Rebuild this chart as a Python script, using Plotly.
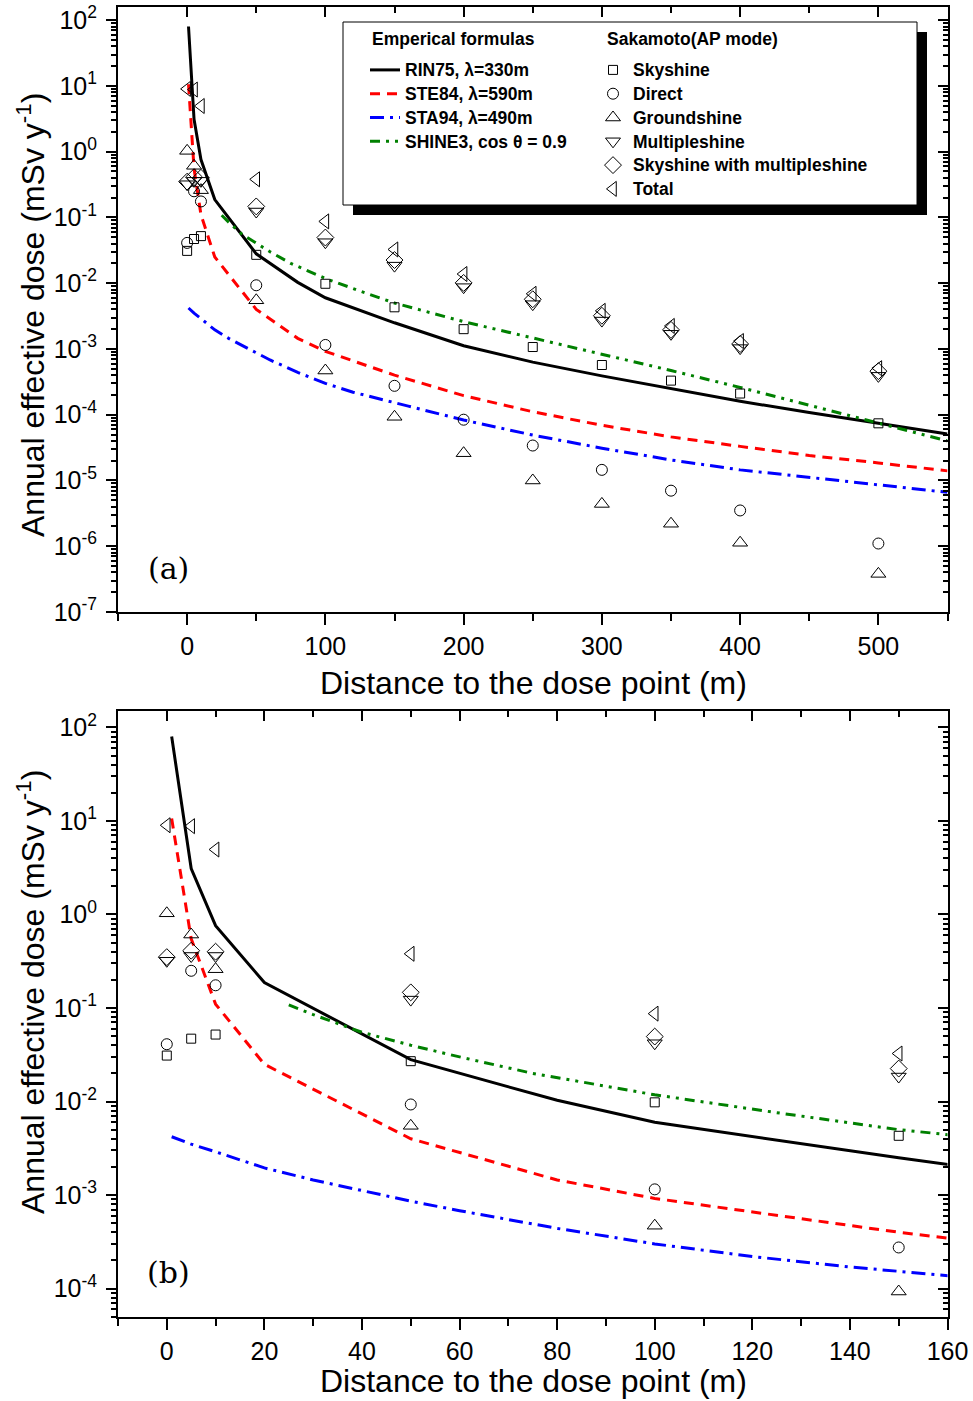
import plotly.graph_objects as go

# ---------------- data ----------------
dist_pts = [0, 5, 10, 50, 100, 150, 200, 250, 300, 350, 400, 500]
skyshine = [0.031, 0.047, 0.052, 0.027, 0.0098, 0.0043, 0.0020, 0.00107, 5.7e-4, 3.3e-4, 2.1e-4, 7.4e-5]
direct = [0.041, 0.25, 0.175, 0.0093, 0.00115, 2.75e-4, 8.4e-5, 3.4e-5, 1.45e-5, 7.0e-6, 3.5e-6, 1.1e-6]
groundshine = [1.03, 0.61, 0.26, 0.0055, 4.7e-4, 9.3e-5, 2.6e-5, 1.0e-5, 4.4e-6, 2.2e-6, 1.13e-6, 3.8e-7]
multipleshine = [0.32, 0.36, 0.36, 0.123, 0.042, 0.0185, 0.0087, 0.0048, 0.0027, 0.0017, 0.00103, 3.9e-4]
sky_multi = [0.35, 0.41, 0.40, 0.147, 0.0495, 0.0225, 0.0101, 0.0057, 0.0032, 0.00195, 0.00119, 4.6e-4]
total = [9.0, 8.8, 4.95, 0.38, 0.087, 0.0326, 0.0138, 0.0069, 0.0038, 0.00224, 0.00132, 5.1e-4]

rin75_x = [1, 5, 10, 20, 50, 80, 100, 150, 200, 250, 300, 350, 400, 450, 500, 550]
rin75_y = [80, 3.1, 0.76, 0.187, 0.028, 0.0103, 0.006, 0.0025, 0.00112, 6.3e-4, 3.9e-4, 2.5e-4,
           1.6e-4, 1.08e-4, 7.4e-5, 5.1e-5]
ste84_x = [1, 5, 10, 20, 50, 80, 100, 150, 200, 250, 300, 350, 400, 450, 500, 550]
ste84_y = [10.6, 0.55, 0.11, 0.025, 0.004, 0.00145, 9.2e-4, 4.0e-4, 1.95e-4, 1.11e-4, 6.9e-5, 4.6e-5,
           3.3e-5, 2.4e-5, 1.85e-5, 1.4e-5]
sta94_x = [1, 5, 10, 20, 30, 40, 50, 60, 80, 100, 120, 140, 160, 200, 250, 300, 350, 400, 450, 500, 550]
sta94_y = [4.2e-3, 3.5e-3, 2.9e-3, 1.95e-3, 1.45e-3, 1.12e-3, 8.6e-4, 6.8e-4, 4.4e-4, 3.0e-4, 2.2e-4,
           1.7e-4, 1.35e-4, 8.3e-5, 4.9e-5, 3.1e-5, 2.05e-5, 1.45e-5, 1.12e-5, 8.6e-6, 6.6e-6]
shine3_x = [25, 30, 40, 50, 60, 75, 100, 125, 150, 200, 250, 300, 350, 400, 450, 500, 550]
shine3_y = [0.108, 0.085, 0.055, 0.040, 0.030, 0.020, 0.0118, 0.0076, 0.0050, 0.0026, 0.00148, 8.4e-4,
            4.7e-4, 2.6e-4, 1.4e-4, 7.5e-5, 4.0e-5]

ytick_a = [-7, -6, -5, -4, -3, -2, -1, 0, 1, 2]
ytick_b = [-4, -3, -2, -1, 0, 1, 2]

# ---------------- figure ----------------
W, H = 973, 1401
def px(x): return x / W
def py(y): return 1 - y / H

FONT = "Liberation Sans"
fig = go.Figure()

def ltxt(s):
    return '<span style="font-size:17.5px"><b>%s</b></span>' % s

lines = [
    (ltxt("RIN75, λ=330m"), rin75_x, rin75_y, "black", "solid"),
    (ltxt("STE84, λ=590m"), ste84_x, ste84_y, "red", "10px,7px"),
    (ltxt("STA94, λ=490m"), sta94_x, sta94_y, "blue", "14px,6px,3px,6px"),
    (ltxt("SHINE3, cos θ = 0.9"), shine3_x, shine3_y, "green", "10px,6px,3px,6px,3px,6px"),
]
markers = [
    (ltxt("Skyshine"), skyshine, "square-open", 9),
    (ltxt("Direct"), direct, "circle-open", 11),
    (ltxt("Groundshine"), groundshine, "triangle-up-open", 13),
    (ltxt("Multipleshine"), multipleshine, "triangle-down-open", 13),
    (ltxt("Skyshine with multipleshine"), sky_multi, "diamond-open", 13),
    (ltxt("Total"), total, "triangle-left-open", 13),
]

for panel, (xa, ya) in enumerate([("x", "y"), ("x2", "y2")]):
    for i, (name, lx, ly, col, dash) in enumerate(lines):
        fig.add_trace(go.Scatter(x=lx, y=ly, mode="lines", name=name,
                                 line=dict(color=col, width=3, dash=dash),
                                 xaxis=xa, yaxis=ya, showlegend=(panel == 0),
                                 legend="legend", legendgroup="l%d" % i))
    for i, (name, vals, sym, sz) in enumerate(markers):
        fig.add_trace(go.Scatter(x=dist_pts, y=vals, mode="markers", name=name,
                                 marker=dict(symbol=sym, size=sz, color="black",
                                             line=dict(color="black", width=1)),
                                 xaxis=xa, yaxis=ya, showlegend=(panel == 0),
                                 legend="legend2", legendgroup="m%d" % i))

# invisible anchors so the mirrored frame axes (top / right) are drawn
for xa, ya in [("x3", "y"), ("x", "y3"), ("x4", "y2"), ("x2", "y4")]:
    fig.add_trace(go.Scatter(x=[0], y=[1], mode="markers", marker=dict(opacity=0),
                             xaxis=xa, yaxis=ya, showlegend=False, hoverinfo="skip"))

def minor_vals(lo, hi):
    out = []
    for e in range(lo, hi + 1):
        for m in range(2, 10):
            out.append(m * 10.0 ** e)
    return out

tickfont = dict(family=FONT, size=25, color="black")
common_ax = dict(showline=True, linecolor="black", linewidth=2, showgrid=False, zeroline=False,
                 tickcolor="black", tickwidth=2, tickfont=tickfont)

def xaxes(dom, rng, dtick, mdtick, anchor, overlay):
    base = dict(common_ax, domain=dom, range=rng, tickmode="linear", tick0=0, dtick=dtick,
                anchor=anchor)
    main = dict(base, ticks="outside", ticklen=11,
                minor=dict(tickmode="linear", tick0=0, dtick=mdtick, ticks="outside", ticklen=7,
                           tickwidth=2, tickcolor="black"))
    top = dict(base, ticks="inside", ticklen=10, side="top", overlaying=overlay,
               showticklabels=False,
               minor=dict(tickmode="linear", tick0=0, dtick=mdtick, ticks="inside", ticklen=6,
                          tickwidth=2, tickcolor="black"))
    return main, top

def yaxes(dom, rng, tv, anchor, overlay):
    base = dict(common_ax, domain=dom, type="log", range=rng, tickmode="array",
                tickvals=[10.0 ** e for e in tv],
                ticktext=["10<sup>%d</sup>" % e for e in tv], anchor=anchor)
    mv = minor_vals(tv[0] - 1, tv[-1])
    main = dict(base, ticks="outside", ticklen=10, ticklabelstandoff=4,
                minor=dict(tickmode="array", tickvals=mv, ticks="outside", ticklen=5,
                           tickwidth=1.5, tickcolor="black"))
    right = dict(base, ticks="inside", ticklen=10, side="right", overlaying=overlay,
                 showticklabels=False,
                 minor=dict(tickmode="array", tickvals=mv, ticks="inside", ticklen=5,
                            tickwidth=1.5, tickcolor="black"))
    return main, right

xdom = [px(118), px(947.5)]
xa_main, xa_top = xaxes(xdom, [-50, 550], 100, 50, "y", "x")
xb_main, xb_top = xaxes(xdom, [-10, 160], 20, 10, "y2", "x2")
ya_main, ya_right = yaxes([py(612), py(7)], [-7, 2.2], ytick_a, "x", "y")
yb_main, yb_right = yaxes([py(1316.7), py(711)], [-4.301, 2.176], ytick_b, "x2", "y2")

LFONT = dict(family=FONT, size=16, color="black")
HFONT = dict(family=FONT, size=17.5, color="black")
fig.update_layout(
    width=W, height=H, margin=dict(l=0, r=0, t=0, b=0, autoexpand=False),
    paper_bgcolor="white", plot_bgcolor="white",
    xaxis=xa_main, xaxis3=xa_top, yaxis=ya_main, yaxis3=ya_right,
    xaxis2=xb_main, xaxis4=xb_top, yaxis2=yb_main, yaxis4=yb_right,
    font=dict(family=FONT, color="black"),
    legend=dict(x=px(365), y=py(53), xanchor="left", yanchor="top",
                bgcolor="rgba(0,0,0,0)", borderwidth=0,
                font=LFONT, tracegroupgap=0, itemwidth=30),
    legend2=dict(x=px(593), y=py(53), xanchor="left", yanchor="top",
                 bgcolor="rgba(0,0,0,0)", borderwidth=0,
                 font=LFONT, tracegroupgap=0, itemwidth=30),
    shapes=[
        dict(type="rect", xref="paper", yref="paper", x0=px(353), x1=px(927), y0=py(215), y1=py(32),
             fillcolor="black", line=dict(width=0), layer="above"),
        dict(type="rect", xref="paper", yref="paper", x0=px(343), x1=px(917), y0=py(205), y1=py(22),
             fillcolor="white", line=dict(color="black", width=1), layer="above"),
    ],
)

ann = []
for txt, xl in [("<b>Emperical formulas</b>", 370), ("<b>Sakamoto(AP mode)</b>", 605)]:
    ann.append(dict(text=txt, x=px(xl), y=py(39), xref="paper", yref="paper", showarrow=False,
                    xanchor="left", yanchor="middle", font=HFONT))
for yc in [683, 1381]:
    ann.append(dict(text="Distance to the dose point (m)", x=px(533), y=py(yc), xref="paper",
                    yref="paper", showarrow=False, xanchor="center", yanchor="middle",
                    font=dict(family=FONT, size=32, color="black")))
for yc in [315, 992]:
    ann.append(dict(text="Annual effective dose (mSv y<sup>-1</sup>)", x=px(31), y=py(yc),
                    xref="paper", yref="paper", showarrow=False, textangle=-90,
                    xanchor="center", yanchor="middle",
                    font=dict(family=FONT, size=32, color="black")))
for lab, yc in [("(a)", 568), ("(b)", 1272)]:
    ann.append(dict(text=lab, x=px(168), y=py(yc), xref="paper", yref="paper", showarrow=False,
                    xanchor="center", yanchor="middle",
                    font=dict(family="DejaVu Serif", size=30, color="black")))
fig.update_layout(annotations=ann)

fig.write_html("out.html", config={"displayModeBar": False},
               post_script="document.body.style.margin='0';document.body.style.overflow='hidden';")
